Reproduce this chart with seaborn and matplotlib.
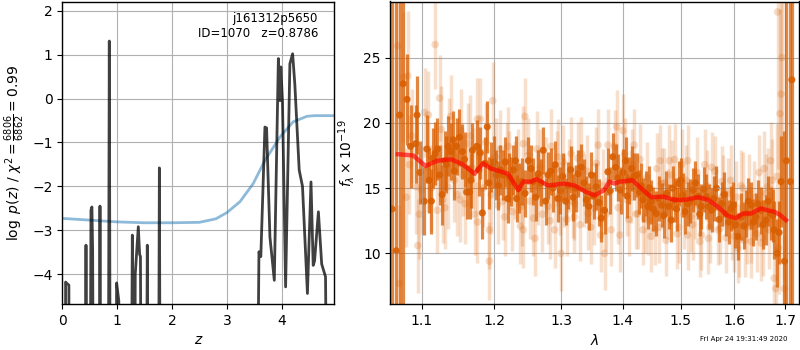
import matplotlib
matplotlib.use("Agg")
import matplotlib.pyplot as plt
import matplotlib.ticker as mticker
import numpy as np
import pandas as pd
import seaborn as sns

# ---------------- data: left panel (redshift PDF) ----------------
pz_z = [0.0, 0.055, 0.06, 0.09, 0.12, 0.13, 0.41, 0.432, 0.455, 0.50, 0.523, 0.54, 0.553, 0.575,
        0.67, 0.687, 0.705, 0.835, 0.857, 0.878, 0.975, 0.99, 1.03, 1.05, 1.25, 1.277, 1.30,
        1.315, 1.33, 1.386, 1.41, 1.425, 1.445, 1.525, 1.55, 1.575, 1.75, 1.77, 1.79, 3.54,
        3.586, 3.62, 3.695, 3.725, 3.786, 3.866, 3.94, 3.97, 3.985, 4.015, 4.072, 4.15, 4.2,
        4.24, 4.32, 4.38, 4.47, 4.535, 4.575, 4.6, 4.67, 4.73, 4.8, 4.84, 4.96]
pz_logp = [-10, -10, -4.18, -4.22, -4.25, -10, -10, -3.34, -10, -10, -2.54, -2.47, -3.45, -10,
           -10, -2.45, -10, -10, 1.31, -10, -10, -4.2, -4.6, -10, -10, -3.11, -10,
           -10, -4.0, -2.92, -3.55, -3.6, -10, -10, -3.34, -10, -10, -1.58, -10, -10,
           -3.49, -3.6, -0.65, -0.67, -3.15, -4.14, 0.91, -0.05, 0.72, -0.07, -4.29, 0.79, 1.02,
           0.33, -1.63, -2.0, -4.44, -1.9, -3.8, -3.7, -2.58, -3.77, -4.06, -10, -10]

chi_z = [0.0, 1.0, 1.5, 2.0, 2.5, 2.8, 3.0, 3.24, 3.48, 3.695, 3.97, 4.21, 4.46, 4.6, 4.96]
chi_val = [-2.73, -2.81, -2.83, -2.83, -2.82, -2.74, -2.6, -2.35, -1.94, -1.41, -0.876, -0.53,
           -0.405, -0.39, -0.39]

# ---------------- data: right panel (spectrum) ----------------
dark_lam = [1.0617, 1.067, 1.0714, 1.076, 1.081, 1.0855, 1.092, 1.094, 1.1035, 1.107, 1.110,
            1.113, 1.118, 1.121, 1.1275, 1.131, 1.1355, 1.139, 1.1425, 1.147, 1.151, 1.155,
            1.161, 1.165, 1.169, 1.175, 1.178, 1.183, 1.187, 1.190, 1.196, 1.203, 1.209, 1.213,
            1.2195, 1.225, 1.231, 1.2325, 1.24, 1.25, 1.2575, 1.265, 1.2725, 1.28, 1.2875,
            1.295, 1.3025, 1.311, 1.319, 1.327, 1.332, 1.340, 1.348, 1.356, 1.364, 1.3695,
            1.375, 1.383, 1.388, 1.396, 1.4045, 1.4105, 1.419, 1.428, 1.434, 1.4425, 1.4485,
            1.457, 1.4665, 1.475, 1.4835, 1.4895, 1.4965, 1.504, 1.513, 1.5225, 1.532, 1.538,
            1.547, 1.557, 1.566, 1.576, 1.5845, 1.594, 1.6065, 1.613, 1.623, 1.6325, 1.642,
            1.652, 1.6615, 1.671, 1.678, 1.684, 1.692, 1.699, 1.703, 1.711, 1.714]
dark_flux = [13.4, 10.2, 20.6, 23.0, 21.8, 18.2, 18.4, 20.6, 14.0, 18.0, 15.6,
             14.0, 17.65, 18.0, 14.5, 17.1, 18.2, 17.8, 18.7, 18.2, 18.9, 17.8,
             14.7, 14.7, 17.9, 18.2, 16.4, 13.1, 16.9, 19.7, 16.6, 16.0, 16.4, 16.0,
             14.2, 15.5, 17.1, 14.2, 15.5, 17.1, 15.5, 16.1, 17.9, 16.0, 15.0,
             14.2, 15.9, 15.2, 14.3, 16.1, 16.6, 14.1, 16.0, 15.1, 12.7, 13.3,
             16.25, 17.4, 16.6, 14.85, 17.1, 15.6, 15.9, 14.7, 14.1, 13.6, 13.95,
             13.05, 13.7, 14.6, 12.55, 14.1, 15.35, 14.45, 13.8, 14.85, 14.35, 13.6,
             14.35, 13.3, 15.0, 13.8, 13.05, 13.45, 11.3, 12.8, 13.05, 13.7, 12.8,
             13.3, 12.55, 13.05, 11.8, 10.0, 15.5, 9.4, 17.1, 15.5, 23.3]
dark_err = [25.0, 25.0, 25.0, 25.0, 3.5, 3.2, 3.0, 3.0, 2.6, 2.6, 2.5,
            2.5, 2.4, 2.4, 2.3, 2.3, 2.3, 2.2, 2.2, 2.2, 2.2, 2.1,
            2.1, 2.1, 2.1, 2.0, 2.0, 2.0, 2.0, 2.0, 1.9, 1.9, 1.9, 1.9,
            1.9, 1.9, 1.9, 1.8, 1.8, 1.8, 1.8, 1.8, 1.8, 1.8, 1.8,
            1.8, 1.8, 1.8, 1.8, 1.8, 1.8, 1.8, 1.8, 1.8, 1.8, 1.8,
            1.8, 1.8, 1.8, 1.8, 1.8, 1.8, 1.8, 1.7, 1.7, 1.7, 1.7,
            1.7, 1.7, 1.7, 1.7, 1.7, 1.7, 1.7, 1.7, 1.7, 1.7, 1.7,
            1.7, 1.7, 1.7, 1.7, 1.7, 1.7, 1.8, 1.8, 1.8, 1.8, 1.8,
            1.8, 1.9, 2.0, 2.2, 2.6, 3.5, 10.0, 25.0, 20.0, 25.0]

dark2_lam = [1.098, 1.115, 1.124, 1.133, 1.144, 1.158, 1.167, 1.180, 1.192, 1.199, 1.206,
             1.216, 1.222, 1.228, 1.236, 1.245, 1.254, 1.261, 1.269, 1.276, 1.284, 1.291,
             1.299, 1.307, 1.315, 1.323, 1.336, 1.344, 1.352, 1.360, 1.379, 1.392, 1.400,
             1.407, 1.415, 1.423, 1.431, 1.439, 1.445, 1.452, 1.461, 1.470, 1.479, 1.486,
             1.493, 1.500, 1.508, 1.517, 1.527, 1.535, 1.542, 1.552, 1.561, 1.571, 1.580,
             1.589, 1.598, 1.602, 1.618, 1.627, 1.637, 1.646, 1.656, 1.666, 1.675, 1.688]
dark2_flux = [16.2, 17.3, 16.0, 16.8, 16.3, 17.2, 15.6, 17.7, 15.4, 17.0, 15.2,
              17.0, 15.8, 16.4, 15.0, 14.6, 16.5, 14.3, 15.4, 14.0, 16.3, 16.8,
              14.8, 14.0, 16.4, 15.0, 15.4, 13.6, 14.4, 13.9, 14.8, 15.8, 16.2,
              14.4, 16.5, 16.0, 15.2, 14.6, 15.0, 13.4, 14.2, 12.9, 13.6, 15.0,
              13.4, 15.6, 13.2, 14.0, 15.4, 13.0, 14.9, 13.6, 14.2, 12.6, 14.5,
              12.4, 13.7, 12.2, 12.1, 14.0, 12.4, 13.8, 12.2, 14.0, 12.9, 11.6]
dark2_err = [2.4, 2.3, 2.3, 2.2, 2.2, 2.1, 2.1, 2.0, 2.0, 2.0, 1.9,
             1.9, 1.9, 1.9, 1.9, 1.8, 1.8, 1.8, 1.8, 1.8, 1.8, 1.8,
             1.8, 1.8, 1.8, 1.8, 1.8, 1.8, 1.8, 1.8, 1.8, 1.8, 1.8,
             1.7, 1.7, 1.7, 1.7, 1.7, 1.7, 1.7, 1.7, 1.7, 1.7, 1.7,
             1.7, 1.7, 1.7, 1.7, 1.7, 1.7, 1.7, 1.7, 1.7, 1.7, 1.7,
             1.7, 1.8, 1.8, 1.8, 1.8, 1.8, 1.8, 1.9, 1.9, 2.0, 2.4]

light_lam = [1.069, 1.071, 1.076, 1.080, 1.082, 1.084, 1.093, 1.095, 1.100, 1.109, 1.109,
             1.118, 1.121, 1.124, 1.128, 1.135, 1.139, 1.144, 1.152, 1.153, 1.159, 1.163,
             1.1695, 1.176, 1.176, 1.18, 1.193, 1.193, 1.198, 1.2025, 1.205, 1.215, 1.22,
             1.222, 1.23, 1.24, 1.2425, 1.2425, 1.245, 1.2575, 1.26, 1.265, 1.268, 1.28,
             1.285, 1.29, 1.295, 1.3, 1.305, 1.316, 1.321, 1.321, 1.332, 1.337, 1.343,
             1.353, 1.359, 1.3695, 1.375, 1.3805, 1.39, 1.395, 1.4, 1.407, 1.413, 1.419,
             1.425, 1.434, 1.4425, 1.4545, 1.464, 1.4665, 1.478, 1.48, 1.4895, 1.494,
             1.513, 1.513, 1.519, 1.526, 1.535, 1.544, 1.551, 1.557, 1.569, 1.576, 1.588,
             1.6, 1.606, 1.613, 1.62, 1.6325, 1.6325, 1.639, 1.652, 1.658, 1.665, 1.671,
             1.678, 1.681, 1.684, 1.685, 1.69, 1.692, 1.699]
light_flux = [25.9, 7.7, 23.5, 14.3, 23.6, 16.8, 15.1, 10.6, 14.85, 20.6, 16.6,
              26.0, 13.3, 21.9, 14.1, 15.1, 20.5, 15.6, 14.1, 19.4, 13.8, 18.4,
              16.5, 12.4, 20.3, 20.3, 9.4, 11.8, 21.7, 17.4, 13.7, 12.8, 18.2,
              16.4, 15.6, 13.6, 11.8, 18.4, 20.5, 12.7, 11.15, 15.1, 16.6, 13.6,
              18.2, 11.8, 17.4, 10.0, 14.85, 17.65, 12.8, 13.8, 17.65, 14.85, 13.05,
              13.45, 18.3, 10.0, 18.3, 11.8, 19.7, 11.4, 19.4, 14.1, 15.1, 18.3,
              13.05, 11.8, 12.55, 11.8, 17.1, 15.35, 13.8, 17.1, 17.2, 11.5,
              17.1, 11.4, 12.8, 13.8, 10.9, 16.8, 11.15, 16.6, 11.8, 15.5, 14.6,
              11.3, 10.4, 15.2, 11.0, 10.9, 12.05, 14.3, 10.8, 16.5, 15.1, 17.1,
              8.1, 7.3, 15.9, 28.5, 20.7, 22.2, 7.3]
light_err = [8.0, 6.0, 5.0, 3.8, 5.0, 3.8, 3.6, 3.6, 3.4, 3.4, 3.4,
             3.4, 3.3, 3.3, 3.3, 3.2, 3.2, 3.2, 3.2, 3.2, 3.1, 3.1,
             3.1, 3.1, 3.1, 3.1, 3.0, 3.0, 3.0, 3.0, 3.0, 3.0, 3.0,
             3.0, 3.0, 3.0, 2.9, 2.9, 2.9, 2.9, 2.9, 2.9, 2.9, 2.9,
             2.9, 2.9, 2.9, 2.9, 2.8, 2.8, 2.8, 2.8, 2.8, 2.8, 2.8,
             2.8, 2.8, 2.8, 2.8, 2.8, 2.8, 2.8, 2.8, 2.8, 2.8, 2.8,
             2.7, 2.7, 2.7, 2.7, 2.7, 2.7, 2.7, 2.7, 2.7, 2.7,
             2.7, 2.7, 2.7, 2.7, 2.7, 2.7, 2.7, 2.7, 2.7, 2.7, 2.7,
             2.7, 2.7, 2.7, 2.8, 2.8, 2.8, 2.8, 2.9, 2.9, 3.0, 3.0,
             3.2, 3.2, 4.0, 12.0, 8.0, 8.0, 4.0]

light2_lam = [1.087, 1.097, 1.104, 1.113, 1.126, 1.131, 1.137, 1.148, 1.156, 1.166, 1.172,
              1.184, 1.188, 1.196, 1.209, 1.212, 1.218, 1.226, 1.234, 1.238, 1.249, 1.252,
              1.263, 1.271, 1.276, 1.283, 1.293, 1.298, 1.303, 1.309, 1.313, 1.318, 1.326,
              1.330, 1.341, 1.347, 1.356, 1.363, 1.367, 1.372, 1.386, 1.392, 1.403, 1.410,
              1.416, 1.422, 1.429, 1.437, 1.441, 1.448, 1.458, 1.462, 1.471, 1.474, 1.484,
              1.497, 1.502, 1.506, 1.510, 1.522, 1.530, 1.538, 1.548, 1.554, 1.563, 1.573,
              1.579, 1.584, 1.593, 1.596, 1.604, 1.609, 1.616, 1.624, 1.629, 1.643, 1.648,
              1.655, 1.661, 1.668, 1.674, 1.687, 1.694, 1.697]
light2_flux = [19.0, 13.0, 20.8, 15.0, 19.5, 13.5, 18.7, 14.5, 16.0, 19.0, 13.0,
               15.0, 18.5, 14.5, 18.0, 14.0, 17.0, 13.2, 16.6, 12.1, 17.5, 14.0,
               18.0, 13.0, 16.0, 12.5, 16.5, 14.2, 17.0, 12.6, 16.0, 14.0, 17.3,
               12.2, 16.3, 12.0, 16.9, 11.4, 15.2, 13.0, 18.2, 13.5, 17.6, 12.6,
               16.8, 13.0, 17.2, 12.7, 15.8, 11.3, 16.5, 12.0, 15.4, 11.0, 16.0,
               12.0, 16.8, 13.0, 15.6, 12.2, 16.2, 11.4, 15.2, 12.0, 16.3, 11.9,
               14.8, 11.2, 15.6, 12.2, 14.3, 11.0, 15.0, 12.0, 14.8, 11.5, 16.2,
               11.2, 14.6, 11.8, 15.6, 10.4, 25.0, 12.5]
light2_err = [3.6, 3.4, 3.4, 3.3, 3.3, 3.2, 3.2, 3.2, 3.1, 3.1, 3.1,
              3.0, 3.0, 3.0, 3.0, 3.0, 3.0, 3.0, 2.9, 2.9, 2.9, 2.9,
              2.9, 2.9, 2.9, 2.9, 2.9, 2.8, 2.8, 2.8, 2.8, 2.8, 2.8,
              2.8, 2.8, 2.8, 2.8, 2.8, 2.8, 2.8, 2.8, 2.8, 2.8, 2.8,
              2.7, 2.7, 2.7, 2.7, 2.7, 2.7, 2.7, 2.7, 2.7, 2.7, 2.7,
              2.7, 2.7, 2.7, 2.7, 2.7, 2.7, 2.7, 2.7, 2.7, 2.7, 2.7,
              2.7, 2.7, 2.7, 2.7, 2.8, 2.8, 2.8, 2.8, 2.8, 2.9, 2.9,
              2.9, 3.0, 3.0, 3.2, 3.5, 8.0, 4.5]

model_lam = [1.069, 1.089, 1.105, 1.121, 1.140, 1.156, 1.172, 1.184, 1.195, 1.220, 1.235,
             1.2425, 1.255, 1.2625, 1.280, 1.305, 1.321, 1.340, 1.353, 1.369, 1.3775, 1.3855,
             1.396, 1.416, 1.428, 1.4485, 1.469, 1.4895, 1.507, 1.532, 1.551, 1.572, 1.588,
             1.603, 1.616, 1.632, 1.652, 1.665, 1.678, 1.690, 1.702]
model_flux = [17.6, 17.5, 16.7, 17.1, 17.2, 16.8, 16.1, 16.9, 16.5, 16.1, 14.85,
              15.5, 15.5, 15.7, 15.2, 15.35, 15.2, 14.7, 14.45, 14.85, 15.5, 15.35,
              15.5, 15.6, 15.1, 14.3, 14.35, 14.1, 14.1, 14.3, 14.1, 13.45, 12.85,
              12.7, 13.05, 13.05, 13.45, 13.3, 13.2, 12.95, 12.55]

z_ticks = [0, 1, 2, 3, 4]
logp_ticks = [-4, -3, -2, -1, 0, 1, 2]
lam_ticks = [1.1, 1.2, 1.3, 1.4, 1.5, 1.6, 1.7]
flux_ticks = [10, 15, 20, 25]

title_text = "j161312p5650\nID=1070   z=0.8786"
stamp_text = "Fri Apr 24 19:31:49 2020"

# ---------------- figure ----------------
plt.rcParams["font.family"] = ["DejaVu Sans"]
fig = plt.figure(figsize=(8, 3.5), dpi=100)
ax1 = fig.add_axes([62.3 / 800, 46 / 350, 272 / 800, 302.5 / 350])
ax2 = fig.add_axes([390.3 / 800, 46 / 350, 409 / 800, 302.5 / 350])

# Left panel
df_pz = pd.DataFrame({"z": pz_z, "logp": pz_logp})
df_chi = pd.DataFrame({"z": chi_z, "chi": chi_val})
sns.lineplot(data=df_chi, x="z", y="chi", ax=ax1, color="#1f77b4", alpha=0.5, lw=2, sort=False)
sns.lineplot(data=df_pz, x="z", y="logp", ax=ax1, color="black", alpha=0.75, lw=2, sort=False)
ax1.set_xlim(0, 4.96)
ax1.set_ylim(-4.68, 2.21)
ax1.set_xticks(z_ticks)
ax1.set_yticks(logp_ticks)
ax1.grid(True, color="#b0b0b0", lw=0.8)
ax1.set_xlabel("$z$")
ax1.set_ylabel(r"$\log\ p(z)$ / $\chi^2=\frac{6806}{6862}=0.99$")
ax1.text(0.94, 0.965, title_text, transform=ax1.transAxes, ha="right", va="top",
         fontsize=8.5, linespacing=1.15)

# Right panel
orange = "#d95f02"


def draw_points(lam, flux, err, alpha_bar, alpha_pt, lw, size):
    lam = np.asarray(lam)
    flux = np.asarray(flux)
    err = np.asarray(err)
    ax2.vlines(lam, flux - err, flux + err, color=orange, alpha=alpha_bar, lw=lw)
    sns.scatterplot(x=lam, y=flux, ax=ax2, color=orange, alpha=alpha_pt, s=size,
                    edgecolor="none")


draw_points(light_lam, light_flux, light_err, 0.2, 0.22, 2.5, 30)
draw_points(light2_lam, light2_flux, light2_err, 0.2, 0.22, 2.5, 30)
draw_points(dark_lam, dark_flux, dark_err, 0.75, 0.9, 2.3, 26)
draw_points(dark2_lam, dark2_flux, dark2_err, 0.75, 0.9, 2.3, 26)
sns.lineplot(x=model_lam, y=model_flux, ax=ax2, color="red", alpha=0.65, lw=3.2, sort=False)

ax2.set_xscale("log")
ax2.set_xlim(1.0595, 1.7294)
ax2.set_ylim(6.12, 29.3)
ax2.xaxis.set_major_locator(mticker.FixedLocator(lam_ticks))
ax2.xaxis.set_major_formatter(mticker.FixedFormatter([f"{t:.1f}" for t in lam_ticks]))
ax2.xaxis.set_minor_locator(mticker.NullLocator())
ax2.set_yticks(flux_ticks)
ax2.grid(True, color="#b0b0b0", lw=0.8)
ax2.set_xlabel(r"$\lambda$")
ax2.set_ylabel(r"$f_\lambda \times 10^{-19}$")

for ax in (ax1, ax2):
    for s in ax.spines.values():
        s.set_color("black")
        s.set_linewidth(1.0)

fig.text(0.985, 0.022, stamp_text, ha="right", va="bottom", fontsize=5)

fig.savefig("out.png", dpi=100)
